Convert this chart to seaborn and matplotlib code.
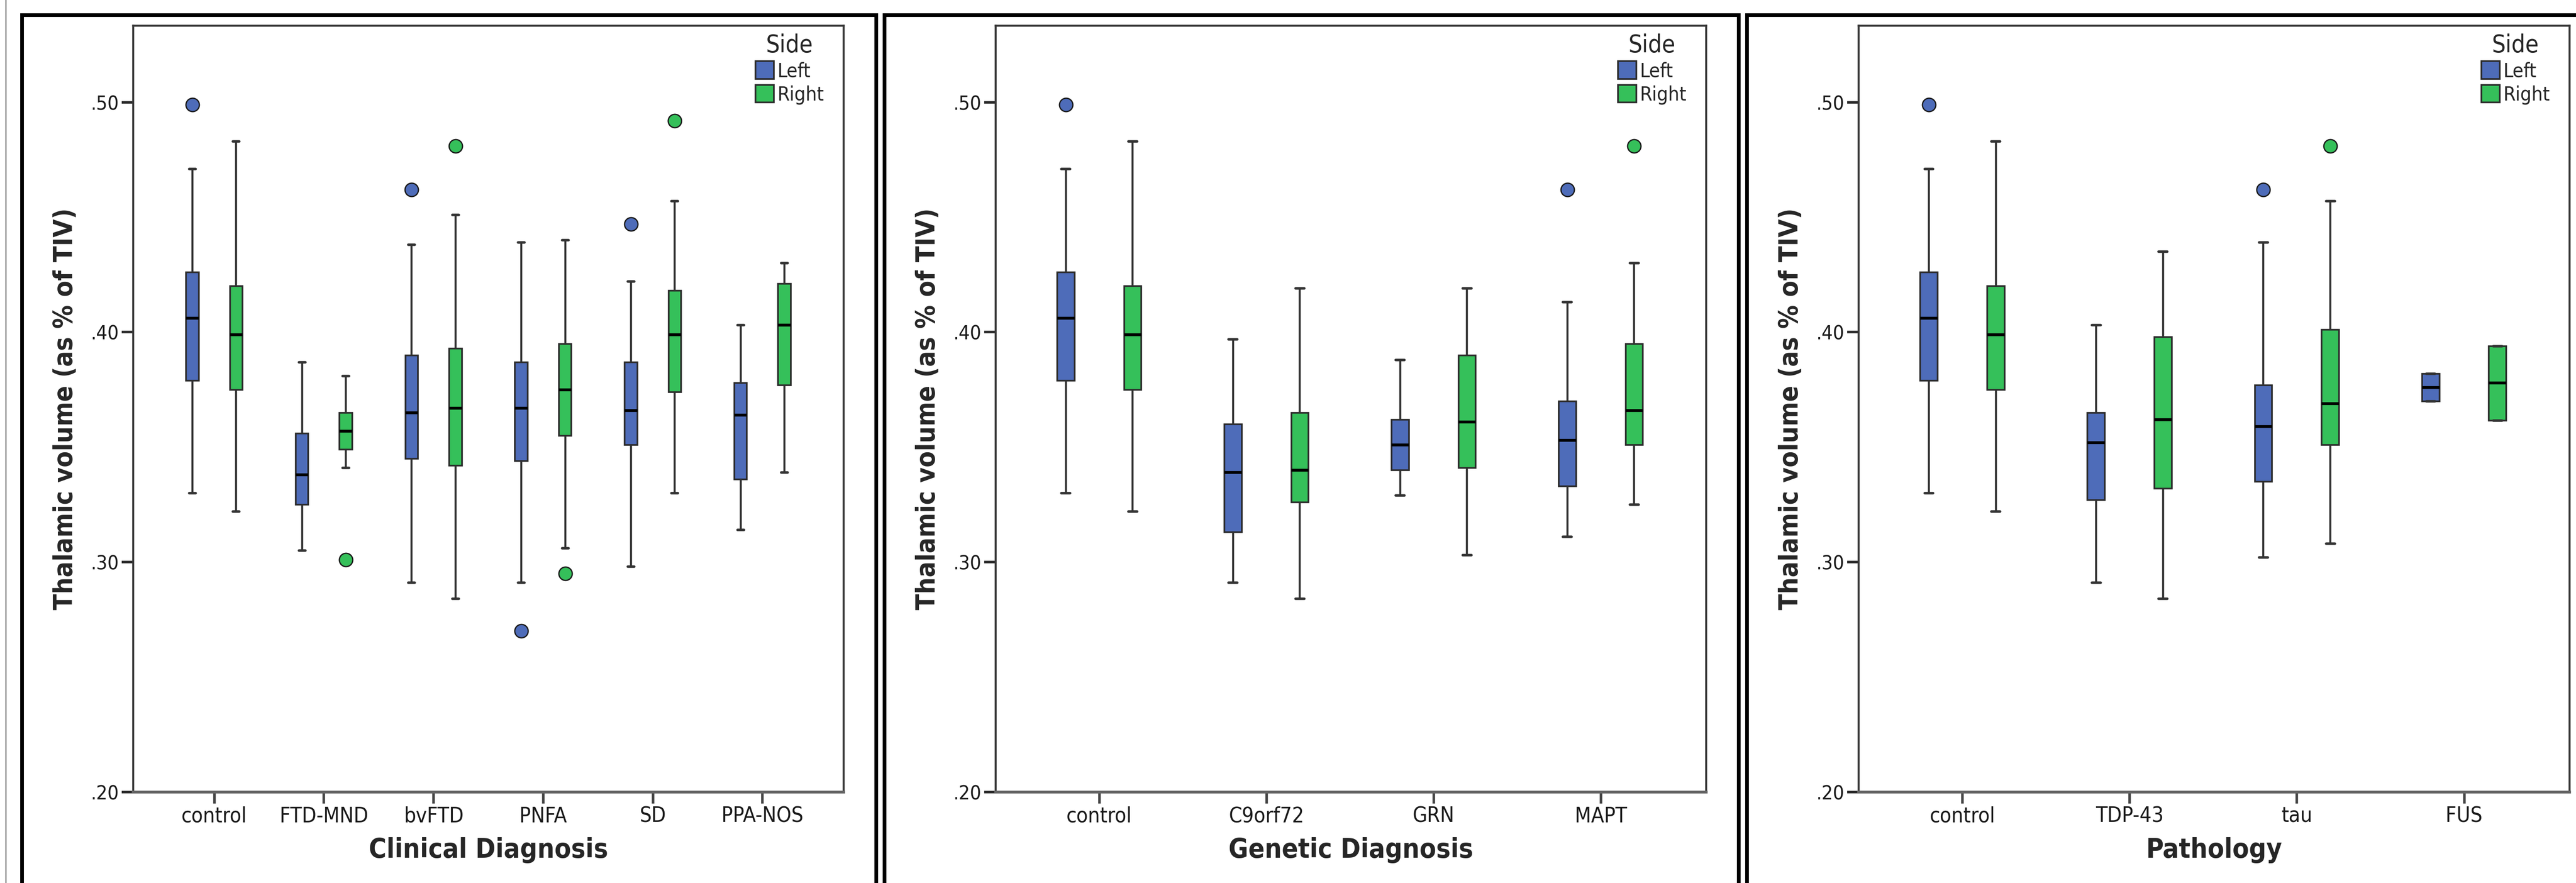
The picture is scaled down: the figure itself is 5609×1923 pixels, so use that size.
import numpy as np
import pandas as pd
import matplotlib.pyplot as plt
import matplotlib.patches as mpatches
import matplotlib.lines as mlines
from matplotlib.ticker import FuncFormatter
import seaborn as sns

# 상자그림 요약값: (whisker low, Q1, median, Q3, whisker high)
SIDES = ['Left', 'Right']
COLORS = {'Left': '#4e6cb9', 'Right': '#35c05a'}

control_left = [0.330, 0.379, 0.406, 0.426, 0.471]
control_right = [0.322, 0.375, 0.399, 0.420, 0.483]

# Clinical Diagnosis
clin_cats = ['control', 'FTD-MND', 'bvFTD', 'PNFA', 'SD', 'PPA-NOS']
clin_left = [control_left,
             [0.305, 0.325, 0.338, 0.356, 0.387],
             [0.291, 0.345, 0.365, 0.390, 0.438],
             [0.291, 0.344, 0.367, 0.387, 0.439],
             [0.298, 0.351, 0.366, 0.387, 0.422],
             [0.314, 0.336, 0.364, 0.378, 0.403]]
clin_right = [control_right,
              [0.341, 0.349, 0.357, 0.365, 0.381],
              [0.284, 0.342, 0.367, 0.393, 0.451],
              [0.306, 0.355, 0.375, 0.395, 0.440],
              [0.330, 0.374, 0.399, 0.418, 0.457],
              [0.339, 0.377, 0.403, 0.421, 0.430]]
clin_out_left = [('control', 0.499), ('bvFTD', 0.462), ('PNFA', 0.270), ('SD', 0.447)]
clin_out_right = [('FTD-MND', 0.301), ('bvFTD', 0.481), ('PNFA', 0.295), ('SD', 0.492)]

# Genetic Diagnosis
gen_cats = ['control', 'C9orf72', 'GRN', 'MAPT']
gen_left = [control_left,
            [0.291, 0.313, 0.339, 0.360, 0.397],
            [0.329, 0.340, 0.351, 0.362, 0.388],
            [0.311, 0.333, 0.353, 0.370, 0.413]]
gen_right = [control_right,
             [0.284, 0.326, 0.340, 0.365, 0.419],
             [0.303, 0.341, 0.361, 0.390, 0.419],
             [0.325, 0.351, 0.366, 0.395, 0.430]]
gen_out_left = [('control', 0.499), ('MAPT', 0.462)]
gen_out_right = [('MAPT', 0.481)]

# Pathology
path_cats = ['control', 'TDP-43', 'tau', 'FUS']
path_left = [control_left,
             [0.291, 0.327, 0.352, 0.365, 0.403],
             [0.302, 0.335, 0.359, 0.377, 0.439],
             [0.370, 0.370, 0.376, 0.382, 0.382]]
path_right = [control_right,
              [0.284, 0.332, 0.362, 0.398, 0.435],
              [0.308, 0.351, 0.369, 0.401, 0.457],
              [0.3615, 0.3615, 0.378, 0.394, 0.394]]
path_out_left = [('control', 0.499), ('tau', 0.462)]
path_out_right = [('tau', 0.481)]

Y_TICKS = [0.20, 0.30, 0.40, 0.50]
Y_LABEL = 'Thalamic volume (as % of TIV)'

W, H = 5609, 1923


def box_frame(cats, left, right):
    # 다섯 값으로 사분위수와 수염 끝이 그대로 재현되는 표 만들기
    rows = []
    for side, stats in (('Left', left), ('Right', right)):
        for cat, vals in zip(cats, stats):
            for v in vals:
                rows.append({'group': cat, 'side': side, 'value': v})
    return pd.DataFrame(rows)


def outlier_frame(out_left, out_right):
    rows = [{'group': c, 'side': 'Left', 'value': v} for c, v in out_left]
    rows += [{'group': c, 'side': 'Right', 'value': v} for c, v in out_right]
    return pd.DataFrame(rows)


def draw_panel(ax, cats, left, right, out_left, out_right, xlabel, gap, xlim):
    df = box_frame(cats, left, right)
    odf = outlier_frame(out_left, out_right)

    sns.boxplot(data=df, x='group', y='value', hue='side', order=cats,
                hue_order=SIDES, palette=COLORS, saturation=1,
                whis=(0, 100), width=0.8, gap=gap, fliersize=0,
                linecolor='#2a2a2a', linewidth=2.6,
                medianprops=dict(color='black', linewidth=4.5),
                whiskerprops=dict(color='#333333', linewidth=3.2),
                capprops=dict(color='#333333', linewidth=4),
                ax=ax)
    sns.stripplot(data=odf, x='group', y='value', hue='side', order=cats,
                  hue_order=SIDES, palette=COLORS, dodge=True, jitter=False,
                  size=21, linewidth=2, edgecolor='#1a1a1a',
                  legend=False, zorder=5, ax=ax)

    ax.set_xlim(*xlim)
    ax.set_ylim(0.20, 0.5333)
    ax.set_yticks(Y_TICKS)
    ax.yaxis.set_major_formatter(FuncFormatter(lambda v, p: f'{v:.2f}'.lstrip('0')))
    ax.tick_params(axis='both', which='major', direction='out', length=18, width=4,
                   bottom=True, left=True, pad=4, color='#2a2a2a', labelcolor='#1a1a1a')
    ax.tick_params(axis='x', labelsize=33, color='#444444')
    ax.tick_params(axis='y', labelsize=31)
    ax.set_xlabel(xlabel, fontsize=42, fontweight='bold', labelpad=16)
    ax.set_ylabel(Y_LABEL, fontsize=41, fontweight='bold', labelpad=20)

    for name, sp in ax.spines.items():
        sp.set_visible(True)
        sp.set_color('#3a3a3a')
        sp.set_linewidth(3.2)
    ax.spines['bottom'].set_color('#666666')
    ax.spines['bottom'].set_linewidth(4.5)

    sns.move_legend(ax, 'upper right', bbox_to_anchor=(0.972, 0.990),
                    title='Side', frameon=False, fontsize=31, title_fontsize=38,
                    handlelength=0.95, handleheight=1.0, handletextpad=0.15,
                    labelspacing=0.2, borderpad=0, borderaxespad=0)


sns.set_theme(style='ticks')
plt.rcParams['font.family'] = ['DejaVu Sans']
plt.rcParams['font.stretch'] = 'condensed'

fig = plt.figure(figsize=(W / 100, H / 100), dpi=100)

ax_bottom = 1 - 1725 / H
ax_height = (1725 - 56) / H
ax1 = fig.add_axes([290 / W, ax_bottom, 1547 / W, ax_height])
ax2 = fig.add_axes([2168 / W, ax_bottom, 1547 / W, ax_height])
ax3 = fig.add_axes([4047 / W, ax_bottom, 1548 / W, ax_height])

draw_panel(ax1, clin_cats, clin_left, clin_right, clin_out_left, clin_out_right,
           'Clinical Diagnosis', 0.71, (-0.74, 5.74))
draw_panel(ax2, gen_cats, gen_left, gen_right, gen_out_left, gen_out_right,
           'Genetic Diagnosis', 0.74, (-0.62, 3.63))
draw_panel(ax3, path_cats, path_left, path_right, path_out_left, path_out_right,
           'Pathology', 0.74, (-0.62, 3.63))

# 패널 테두리 (아래쪽은 그림 밖으로 잘림)
for x0, x1 in [(48, 1908), (1926, 3786), (3804, 5700)]:
    fig.add_artist(mpatches.Rectangle((x0 / W, 1 - 2100 / H), (x1 - x0) / W, (2100 - 33) / H,
                                      transform=fig.transFigure, fill=False,
                                      edgecolor='black', linewidth=5.8, clip_on=False))
fig.add_artist(mlines.Line2D([12.5 / W, 12.5 / W], [0, 1], transform=fig.transFigure,
                             color='#222222', linewidth=1.2))

fig.savefig('out.png', dpi=100, facecolor='white')
